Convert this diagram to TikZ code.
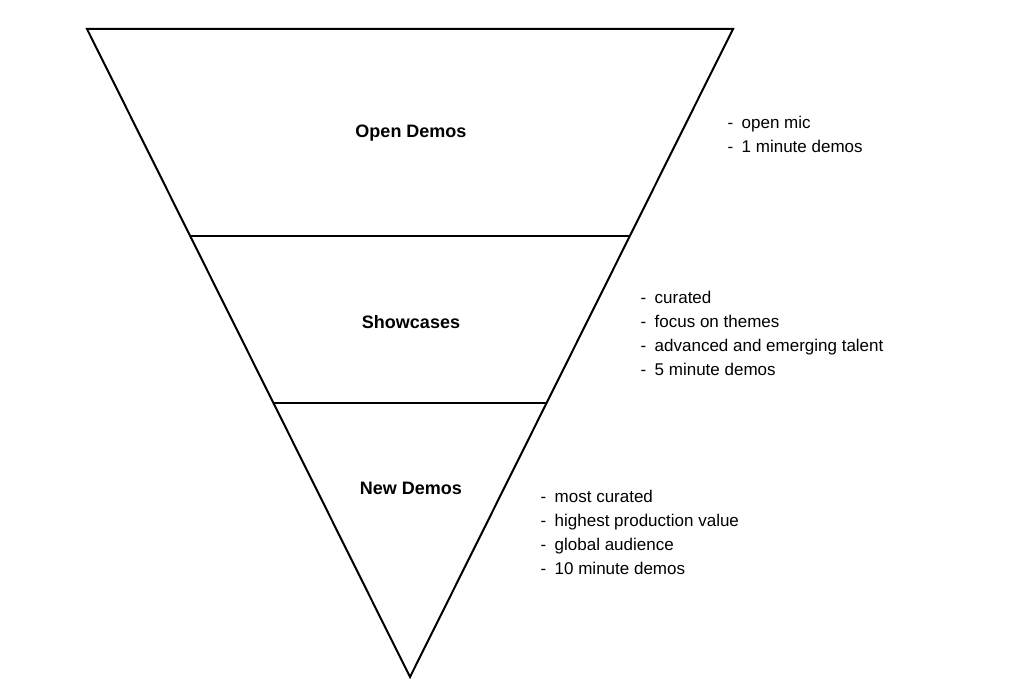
\documentclass[tikz,border=0pt]{standalone}
\usepackage{fontspec}
\setmainfont{Liberation Sans}
\begin{document}
\begin{tikzpicture}[x=1pt,y=-1pt,
  edge/.style={line width=2pt,line join=miter},
  title/.style={font=\fontsize{18}{22}\selectfont\bfseries},
  list/.style={font=\fontsize{17}{24}\selectfont,align=left,anchor=west}]
\useasboundingbox (0,0) rectangle (1016,700);
\coordinate (tl) at (87,29);
\coordinate (tr) at (733,29);
\coordinate (ap) at (410,677);
\coordinate (a1) at (190,236);
\coordinate (b1) at (630,236);
\coordinate (a2) at (274,403);
\coordinate (b2) at (546,403);
\draw[edge] (tl) -- (tr) -- (ap) -- cycle;
\draw[edge] (a1) -- (b1);
\draw[edge] (a2) -- (b2);
\node[title] (t1) at (411,133) {Open Demos};
\node[title] (t2) at (411,322) {Showcases};
\node[title] (t3) at (411,488) {New Demos};
\node[list] (l1) at (724,134) {-\enspace open mic\\-\enspace 1 minute demos};
\node[list] (l2) at (637,333) {-\enspace curated\\-\enspace focus on themes\\-\enspace advanced and emerging talent\\-\enspace 5 minute demos};
\node[list] (l3) at (537,532) {-\enspace most curated\\-\enspace highest production value\\-\enspace global audience\\-\enspace 10 minute demos};
\end{tikzpicture}
\end{document}
